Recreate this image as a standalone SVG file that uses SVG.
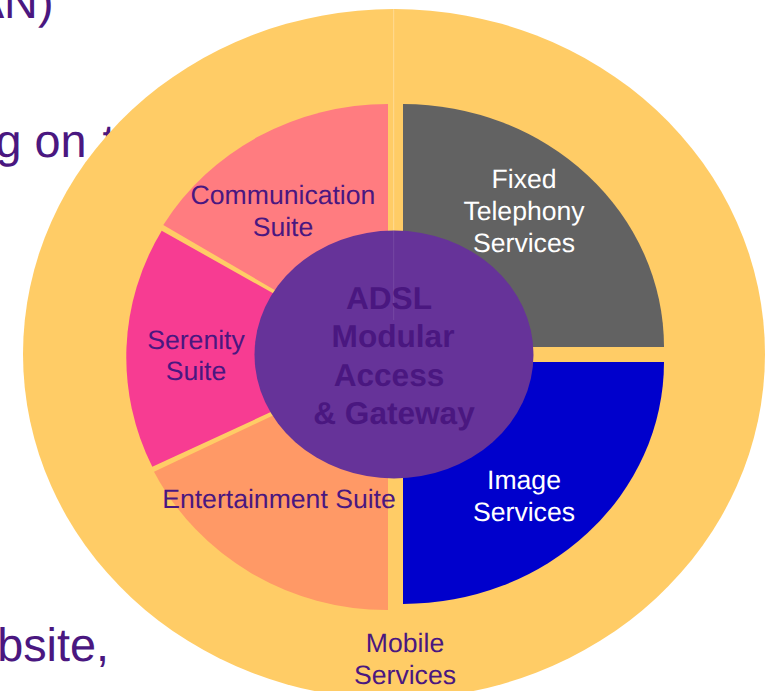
<svg xmlns="http://www.w3.org/2000/svg" width="765" height="691" viewBox="0 0 765 691">
<style>
text{font-family:"Liberation Sans",Arial,sans-serif;fill:#4a1780;text-rendering:geometricPrecision}
.bg{font-size:46.800px}
.l{font-size:26.600px;text-anchor:middle}
.w{fill:#fff}
.c{font-size:31.600px;font-weight:bold;text-anchor:middle}
</style>
<rect width="765" height="691" fill="#fff"/>
<g id="background-text">
<text class="bg" x="53.500" y="18" text-anchor="end">AN)</text>
<text class="bg" x="-4.500" y="157">g on <tspan dx="3">t</tspan></text>
<text class="bg" x="109" y="661" text-anchor="end">bsite,</text>
</g>
<g id="mobile-services">
<ellipse cx="394" cy="354" rx="371" ry="345" fill="#ffcc66"/>
<path d="M393.700 9V320" stroke="#fff" stroke-opacity=".3" stroke-width="1" fill="none"/>
<text class="l" x="405" y="652">Mobile</text>
<text class="l" x="405" y="684">Services</text>
</g>
<g id="fixed-telephony">
<path d="M403 347V104A261 243 0 0 1 664 347Z" fill="#626262"/>
</g>
<g id="image-services">
<path d="M403 362H664A261 242 0 0 1 403 604Z" fill="#0000cc"/>
</g>
<g id="communication-suite">
<path d="M388 356V104A262 249 0 0 0 163.300 225Z" fill="#ff7c80"/>
</g>
<g id="serenity-suite">
<path d="M388 358L161.700 230.700A262 252 0 0 0 152.300 466.700Z" fill="#f73c92"/>
</g>
<g id="entertainment-suite">
<path d="M388 361L154 471.700A262 254 0 0 0 388 610Z" fill="#ff9966"/>
</g>
<g id="centre">
<ellipse cx="394" cy="354.500" rx="139.500" ry="124" fill="#663399"/>
<path d="M393.700 231V320" stroke="#fff" stroke-opacity=".1" stroke-width="1" fill="none"/>
<text class="c" x="389" y="309">ADSL</text>
<text class="c" x="393" y="347">Modular</text>
<text class="c" x="389" y="386">Access</text>
<text class="c" x="394" y="424">&amp; Gateway</text>
</g>
<g id="labels">
<text class="l w" x="524" y="188">Fixed</text>
<text class="l w" x="524" y="220">Telephony</text>
<text class="l w" x="524" y="252">Services</text>
<text class="l w" x="524" y="489">Image</text>
<text class="l w" x="524" y="521">Services</text>
<text class="l" x="283" y="204">Communication</text>
<text class="l" x="283" y="236">Suite</text>
<text class="l" x="196" y="349">Serenity</text>
<text class="l" x="196" y="380">Suite</text>
<text class="l" x="279" y="508">Entertainment Suite</text>
</g>
<g id="connectors"></g>
</svg>
